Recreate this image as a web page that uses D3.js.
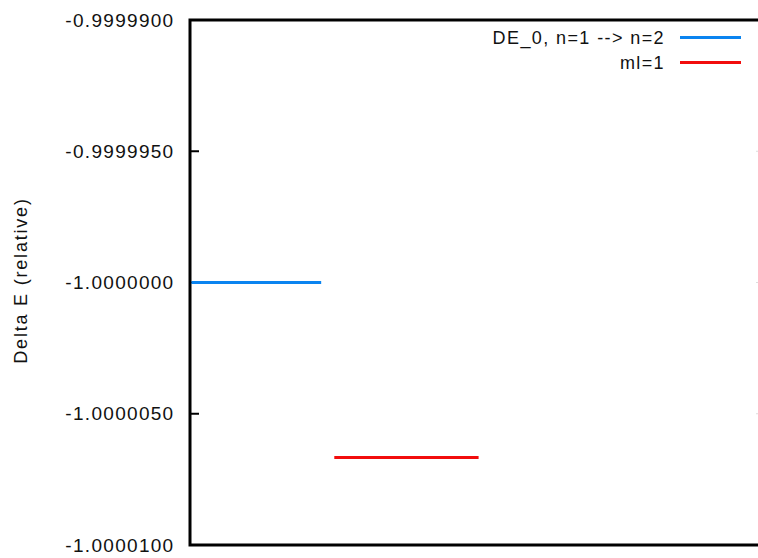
<!DOCTYPE html>
<html>
<head>
<meta charset="utf-8">
<script src="https://cdn.jsdelivr.net/npm/d3@7"></script>
<style>
  html, body { margin: 0; padding: 0; background: #fff; }
  svg { display: block; font-family: "Liberation Sans", Arial, sans-serif; }
</style>
</head>
<body>
<svg id="chart" width="758" height="558"></svg>
<script>
// Energy levels: each level is a horizontal segment [x0, x1] at a value
const seriesNames = ["DE_0, n=1 --> n=2", "ml=1"];
const seriesColors = ["#0a84f0", "#f20d0d"];
const levelValues = [-1.0000000, -1.0000066667];
const levelStart = [0.0, 1.1];
const levelEnd = [1.0, 2.2];
const yTicks = [-0.99999, -0.999995, -1.0, -1.000005, -1.00001];
const yLabel = "Delta E (relative)";

const svg = d3.select("#chart");
const margin = { left: 190, top: 20, right: 0, bottom: 13 };
const W = 758, H = 558;

const x = d3.scaleLinear().domain([0, 4.33]).range([margin.left, W - margin.right]);
const y = d3.scaleLinear().domain([-1.00001, -0.99999]).range([H - margin.bottom, margin.top]);

// Left axis labels (plain hyphen for the minus sign)
const fmt = d3.format(".7f");
const yAxis = d3.axisLeft(y)
  .tickValues(yTicks)
  .tickSize(0)
  .tickPadding(15.5)
  .tickFormat(d => fmt(d).replace("\u2212", "-"));

const gy = svg.append("g")
  .attr("transform", `translate(${margin.left},0)`)
  .call(yAxis);
gy.select(".domain").remove();
gy.selectAll("text")
  .attr("font-size", 19)
  .attr("letter-spacing", 1.3)
  .attr("fill", "#111")
  .attr("font-family", "'Liberation Sans', Arial, sans-serif");

// inward tick marks on the left
svg.append("g").selectAll("line")
  .data(yTicks.slice(1, -1))
  .join("line")
  .attr("x1", margin.left).attr("x2", margin.left + 9)
  .attr("y1", d => y(d)).attr("y2", d => y(d))
  .attr("stroke", "#000").attr("stroke-width", 2);

// faint mirrored ticks at the right edge
svg.append("g").selectAll("line")
  .data(yTicks.slice(1, -1))
  .join("line")
  .attr("x1", W - 2).attr("x2", W)
  .attr("y1", d => y(d)).attr("y2", d => y(d))
  .attr("stroke", "#ddd").attr("stroke-width", 1);

// frame: left, top, bottom
const [xl, xr] = x.range();
const [yb, yt] = y.range();
svg.append("path")
  .attr("d", `M${xr},${yt}H${xl}V${yb}H${xr}`)
  .attr("fill", "none")
  .attr("stroke", "#000")
  .attr("stroke-width", 3);

// level segments
const levels = levelValues.map((v, i) => ({ v, x0: levelStart[i], x1: levelEnd[i], c: seriesColors[i] }));
svg.append("g").selectAll("line")
  .data(levels)
  .join("line")
  .attr("x1", d => Math.max(x(d.x0), xl + 1.5))
  .attr("x2", d => x(d.x1))
  .attr("y1", d => y(d.v))
  .attr("y2", d => y(d.v))
  .attr("stroke", d => d.c)
  .attr("stroke-width", 3);

// y-axis title
svg.append("text")
  .attr("transform", `translate(27,${(yt + yb) / 2 - 2}) rotate(-90)`)
  .attr("text-anchor", "middle")
  .attr("font-size", 18)
  .attr("letter-spacing", 1.8)
  .attr("fill", "#111")
  .text(yLabel);

// legend
const legend = svg.append("g");
seriesNames.forEach((name, i) => {
  const ly = 37.5 + i * 25;
  legend.append("text")
    .attr("x", 665).attr("y", ly + 6.3)
    .attr("text-anchor", "end")
    .attr("font-size", 18)
    .attr("letter-spacing", 1.4)
    .attr("fill", "#111")
    .text(name);
  legend.append("line")
    .attr("x1", 680).attr("x2", 741)
    .attr("y1", ly).attr("y2", ly)
    .attr("stroke", seriesColors[i])
    .attr("stroke-width", 3);
});
</script>
</body>
</html>
